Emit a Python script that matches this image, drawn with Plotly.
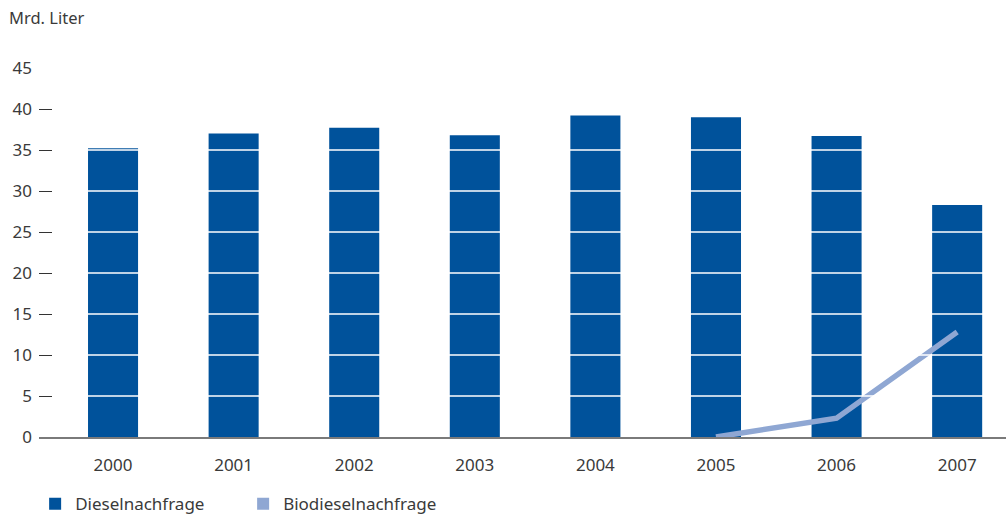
import plotly.graph_objects as go

years = ["2000", "2001", "2002", "2003", "2004", "2005", "2006", "2007"]
diesel = [35.2, 37.0, 37.7, 36.8, 39.2, 39.0, 36.7, 28.3]
bio_years = ["2005", "2006", "2007"]
biodiesel = [0.0, 2.3, 12.8]
y_ticks = [0, 5, 10, 15, 20, 25, 30, 35, 40, 45]

DARK = "#00529b"
LIGHT = "#8fa7d3"
TXT = "#3a3a3a"
FONT = "Noto Sans"

fig = go.Figure()
fig.add_trace(go.Bar(x=years, y=diesel, name="Dieselnachfrage", marker_color=DARK,
                     width=0.415, marker_line_width=0))
fig.add_trace(go.Scatter(x=bio_years, y=biodiesel, mode="lines", showlegend=False,
                         line=dict(color=LIGHT, width=5.5)))
# legend proxy (square symbol) for the line series
fig.add_trace(go.Bar(x=[None], y=[None], name="Biodieselnachfrage", marker_color=LIGHT,
                     marker_line_width=0))

shapes = []
for v in y_ticks[1:]:
    shapes.append(dict(type="line", xref="paper", yref="y", x0=0.02, x1=1, y0=v, y1=v,
                       line=dict(color="white", width=1.5), layer="above"))

fig.update_layout(
    width=1006, height=515,
    margin=dict(l=39, r=0, t=68, b=78, autoexpand=False),
    paper_bgcolor="white", plot_bgcolor="white",
    font=dict(family=FONT, size=17, color=TXT),
    barmode="overlay",
    shapes=shapes,
    xaxis=dict(type="category", categoryorder="array", categoryarray=years,
               range=[-0.614, 7.405], showgrid=False, showline=True,
               linecolor="#7a7a7a", linewidth=1.5, ticks="", ticklabelstandoff=12,
               tickfont=dict(size=17, color=TXT)),
    yaxis=dict(range=[0, 45], tickvals=y_ticks, showgrid=False, zeroline=False,
               ticks="inside", ticklen=13, tickcolor="#333", tickwidth=1.2,
               ticklabelstandoff=6,
               showline=False, tickfont=dict(size=17, color=TXT)),
    legend=dict(orientation="h", x=-0.004, xanchor="left", y=-0.133, yanchor="top",
                entrywidth=163, entrywidthmode="pixels",
                font=dict(size=17, color=TXT), traceorder="normal"),
    annotations=[dict(text="Mrd. Liter", xref="paper", yref="paper", x=-0.033, y=1.136,
                      xanchor="left", yanchor="middle", showarrow=False,
                      font=dict(size=16.5, color=TXT))],
)

fig.write_html("out.html")
